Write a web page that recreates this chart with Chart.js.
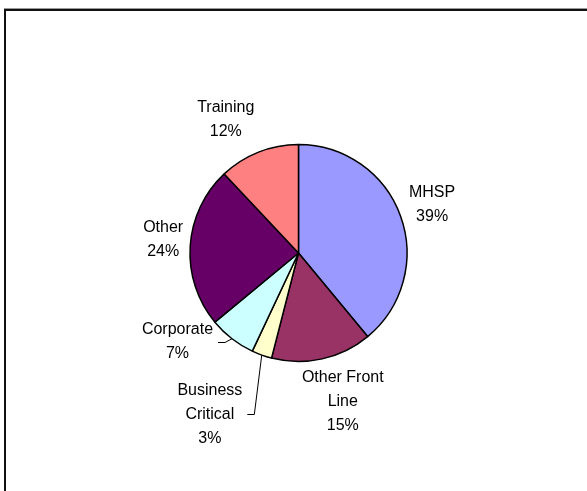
<!DOCTYPE html>
<html>
<head>
<meta charset="utf-8">
<script src="https://cdn.jsdelivr.net/npm/chart.js@4"></script>
<style>
  html, body { margin: 0; padding: 0; background: #fff; }
  #wrap { position: relative; width: 587px; height: 491px; overflow: hidden; }
  canvas { display: block; }
</style>
</head>
<body>
<div id="wrap"><canvas id="pie" width="587" height="491"></canvas></div>
<script>
// Share of activity by area (percent)
const categories = ['MHSP', 'Other Front Line', 'Business Critical', 'Corporate', 'Other', 'Training'];
const labelLines = [['MHSP'], ['Other Front', 'Line'], ['Business', 'Critical'], ['Corporate'], ['Other'], ['Training']];
const shares = [39, 15, 3, 7, 24, 12];
const sliceColors = ['#9999FF', '#993366', '#FFFFCC', '#CCFFFF', '#660066', '#FF8080'];

// Label placement around the pie: distance from the centre and a small turn
// away from the slice's middle angle (degrees, clockwise), plus leader flag.
const labelPlacement = [
  { dist: 142, turn: 0,   leader: false },
  { dist: 155, turn: -4,  leader: false },
  { dist: 184, turn: 9,   leader: true  },
  { dist: 150, turn: 16,  leader: true  },
  { dist: 136, turn: 2,   leader: false },
  { dist: 152, turn: -7,  leader: false }
];

const FONT = '16px "Liberation Sans", Arial, sans-serif';
const LINE_H = 24;

// Page frame: a dark rule along the top and left edges
const framePlugin = {
  id: 'frame',
  beforeDraw(chart) {
    const ctx = chart.ctx;
    ctx.save();
    ctx.fillStyle = '#ffffff';
    ctx.fillRect(0, 0, chart.width, chart.height);
    ctx.fillStyle = '#9a9a9a';
    ctx.fillRect(4, 8, chart.width - 4, 1);
    ctx.fillStyle = '#111111';
    ctx.fillRect(4, 9, chart.width - 4, 2);
    ctx.fillRect(4, 9, 2, chart.height - 9);
    ctx.restore();
  }
};

// Category name and percentage next to each slice
const sliceLabels = {
  id: 'sliceLabels',
  afterDatasetsDraw(chart) {
    const ctx = chart.ctx;
    const meta = chart.getDatasetMeta(0);
    const total = shares.reduce((a, b) => a + b, 0);
    ctx.save();
    ctx.font = FONT;
    ctx.fillStyle = '#000';
    ctx.textAlign = 'center';
    ctx.textBaseline = 'middle';
    meta.data.forEach((arc, i) => {
      const p = arc.getProps(['x', 'y', 'startAngle', 'endAngle', 'outerRadius'], true);
      const mid = (p.startAngle + p.endAngle) / 2;
      const place = labelPlacement[i];
      const a = mid + place.turn * Math.PI / 180;
      const cx = p.x + Math.cos(a) * place.dist;
      const cy = p.y + Math.sin(a) * place.dist;
      const lines = labelLines[i].concat([Math.round(shares[i] / total * 100) + '%']);
      const top = cy - (lines.length - 1) * LINE_H / 2;
      let w = 0;
      lines.forEach((t, k) => {
        ctx.fillText(t, cx, top + k * LINE_H);
        w = Math.max(w, ctx.measureText(t).width);
      });
      if (place.leader) {
        // short horizontal tick beside the text, then up to the slice edge
        const ex = p.x + Math.cos(mid) * p.outerRadius;
        const ey = p.y + Math.sin(mid) * p.outerRadius;
        const x0 = cx + w / 2 + 5;
        const x1 = x0 + 7;
        ctx.beginPath();
        ctx.strokeStyle = '#000';
        ctx.lineWidth = 1;
        ctx.moveTo(x0, Math.round(cy) + 0.5);
        ctx.lineTo(x1, Math.round(cy) + 0.5);
        ctx.lineTo(ex, ey);
        ctx.stroke();
      }
    });
    ctx.restore();
  }
};

new Chart(document.getElementById('pie'), {
  type: 'pie',
  data: {
    labels: categories,
    datasets: [{
      data: shares,
      backgroundColor: sliceColors,
      borderColor: '#000000',
      borderWidth: 1.5
    }]
  },
  options: {
    responsive: false,
    animation: false,
    layout: { padding: { left: 189.25, right: 179.25, top: 143.75, bottom: 128.75 } },
    plugins: {
      legend: { display: false },
      tooltip: { enabled: false },
      title: { display: false }
    }
  },
  plugins: [framePlugin, sliceLabels]
});
</script>
</body>
</html>
